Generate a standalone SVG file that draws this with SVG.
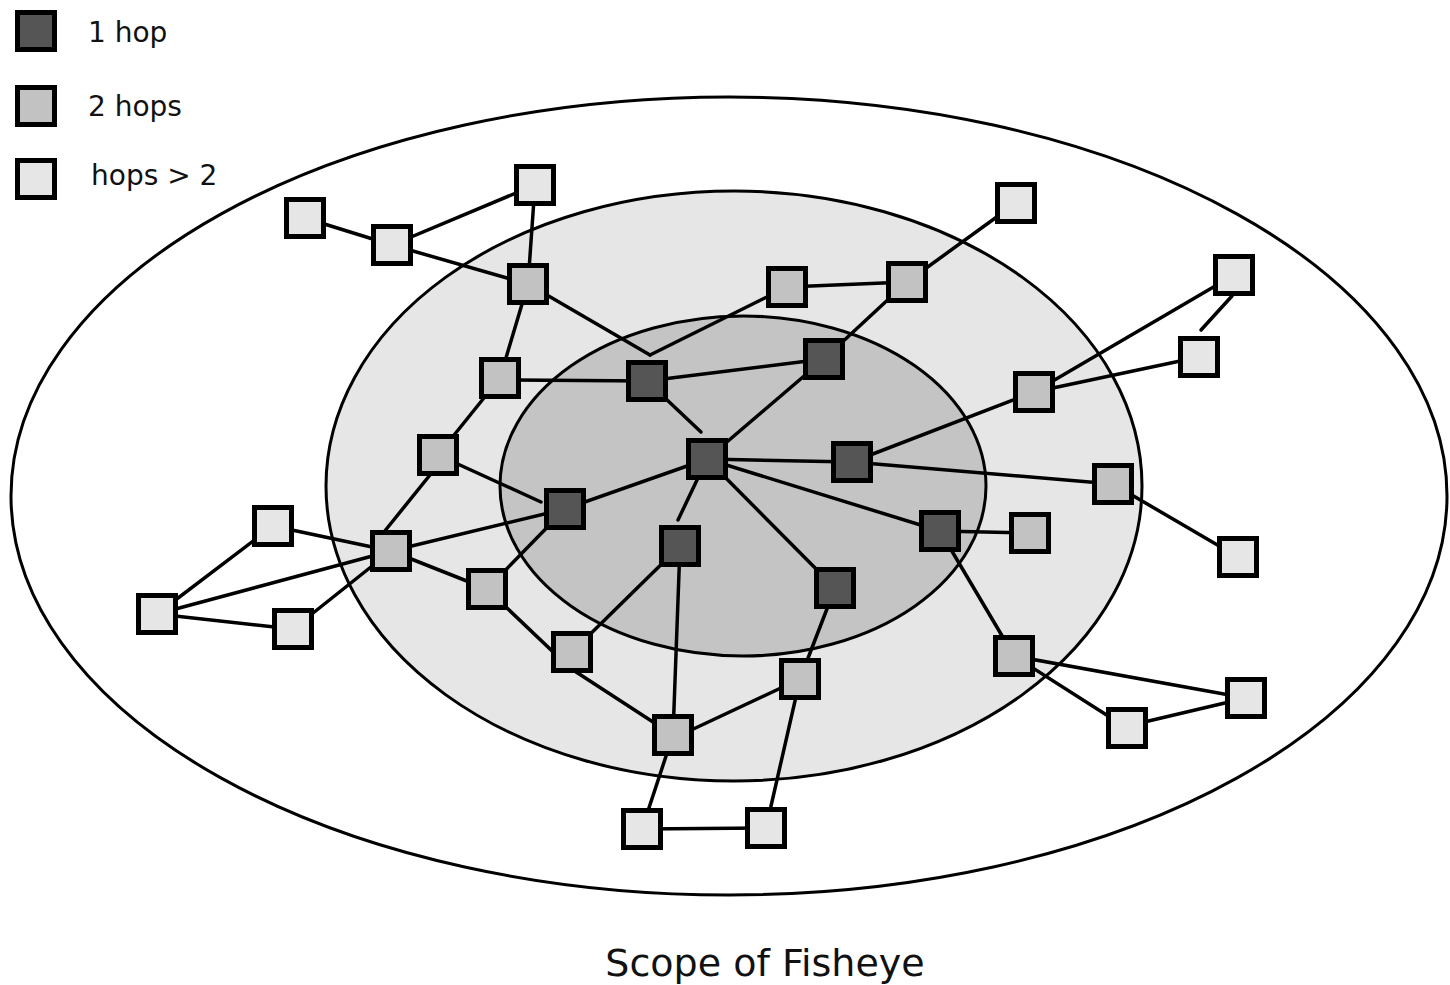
<svg xmlns="http://www.w3.org/2000/svg" width="1450" height="985" viewBox="0 0 1450 985">
  <style>
    .ring { stroke: #000; stroke-width: 3; }
    .edge { stroke: #000; stroke-width: 3.5; fill: none; stroke-linecap: round; }
    .box { stroke: #000; stroke-width: 5; }
    .h1 { fill: #555555; }
    .h2 { fill: #c2c2c2; }
    .h3 { fill: #e6e6e6; }
    .lbl { font-family: "DejaVu Sans", Verdana, sans-serif; fill: #111; }
  </style>

  <rect width="1450" height="985" fill="#ffffff"/>

  <!-- scope rings -->
  <g id="rings">
    <ellipse class="ring" cx="729" cy="496" rx="718" ry="399" fill="#ffffff"/>
    <ellipse class="ring" cx="734" cy="486" rx="408" ry="295" fill="#e6e6e6"/>
    <ellipse class="ring" cx="743" cy="486" rx="243" ry="170" fill="#c4c4c4"/>
  </g>

  <!-- links -->
  <g id="connectors">
    <line class="edge" x1="305" y1="218" x2="392" y2="245"/>
    <line class="edge" x1="392" y1="245" x2="535" y2="185"/>
    <line class="edge" x1="392" y1="245" x2="528" y2="284"/>
    <line class="edge" x1="535" y1="185" x2="528" y2="284"/>
    <line class="edge" x1="528" y1="284" x2="500" y2="378"/>
    <line class="edge" x1="528" y1="284" x2="650" y2="355"/>
    <line class="edge" x1="787" y1="287" x2="650" y2="355"/>
    <line class="edge" x1="513" y1="380" x2="647" y2="381"/>
    <line class="edge" x1="647" y1="381" x2="824" y2="359"/>
    <line class="edge" x1="647" y1="381" x2="701" y2="432"/>
    <line class="edge" x1="707" y1="459" x2="824" y2="359"/>
    <line class="edge" x1="824" y1="359" x2="907" y2="282"/>
    <line class="edge" x1="787" y1="287" x2="907" y2="282"/>
    <line class="edge" x1="907" y1="282" x2="1016" y2="203"/>
    <line class="edge" x1="707" y1="459" x2="852" y2="462"/>
    <line class="edge" x1="707" y1="459" x2="940" y2="531"/>
    <line class="edge" x1="707" y1="459" x2="835" y2="588"/>
    <line class="edge" x1="707" y1="459" x2="678" y2="520"/>
    <line class="edge" x1="707" y1="459" x2="565" y2="509"/>
    <line class="edge" x1="852" y1="462" x2="1034" y2="392"/>
    <line class="edge" x1="852" y1="462" x2="1113" y2="484"/>
    <line class="edge" x1="1034" y1="392" x2="1234" y2="275"/>
    <line class="edge" x1="1034" y1="392" x2="1199" y2="357"/>
    <line class="edge" x1="1232" y1="296" x2="1201" y2="330"/>
    <line class="edge" x1="1113" y1="484" x2="1238" y2="557"/>
    <line class="edge" x1="940" y1="531" x2="1030" y2="533"/>
    <line class="edge" x1="940" y1="531" x2="1014" y2="656"/>
    <line class="edge" x1="1014" y1="656" x2="1246" y2="698"/>
    <line class="edge" x1="1014" y1="656" x2="1127" y2="728"/>
    <line class="edge" x1="1140" y1="723" x2="1246" y2="698"/>
    <line class="edge" x1="438" y1="455" x2="541" y2="502"/>
    <line class="edge" x1="438" y1="455" x2="500" y2="378"/>
    <line class="edge" x1="434" y1="470" x2="384" y2="532"/>
    <line class="edge" x1="565" y1="509" x2="391" y2="551"/>
    <line class="edge" x1="565" y1="509" x2="487" y2="589"/>
    <line class="edge" x1="391" y1="551" x2="487" y2="589"/>
    <line class="edge" x1="391" y1="551" x2="273" y2="526"/>
    <line class="edge" x1="391" y1="551" x2="157" y2="614"/>
    <line class="edge" x1="391" y1="551" x2="293" y2="629"/>
    <line class="edge" x1="157" y1="614" x2="273" y2="526"/>
    <line class="edge" x1="157" y1="614" x2="293" y2="629"/>
    <line class="edge" x1="487" y1="589" x2="570" y2="668"/>
    <line class="edge" x1="570" y1="668" x2="673" y2="735"/>
    <line class="edge" x1="680" y1="546" x2="572" y2="652"/>
    <line class="edge" x1="680" y1="546" x2="673" y2="735"/>
    <line class="edge" x1="835" y1="588" x2="800" y2="679"/>
    <line class="edge" x1="800" y1="679" x2="687" y2="732"/>
    <line class="edge" x1="673" y1="735" x2="642" y2="829"/>
    <line class="edge" x1="800" y1="679" x2="766" y2="828"/>
    <line class="edge" x1="642" y1="829" x2="766" y2="828"/>
  </g>

  <!-- one-hop neighbours -->
  <g id="n-center"><rect class="box h1" x="688.5" y="440.5" width="37" height="37"/></g>
  <g id="n-c1"><rect class="box h1" x="628.5" y="362.5" width="37" height="37"/></g>
  <g id="n-c2"><rect class="box h1" x="805.5" y="340.5" width="37" height="37"/></g>
  <g id="n-c3"><rect class="box h1" x="833.5" y="443.5" width="37" height="37"/></g>
  <g id="n-c4"><rect class="box h1" x="546.5" y="490.5" width="37" height="37"/></g>
  <g id="n-c5"><rect class="box h1" x="661.5" y="527.5" width="37" height="37"/></g>
  <g id="n-c6"><rect class="box h1" x="921.5" y="512.5" width="37" height="37"/></g>
  <g id="n-c7"><rect class="box h1" x="816.5" y="569.5" width="37" height="37"/></g>

  <!-- two-hop neighbours -->
  <g id="n-b1"><rect class="box h2" x="509.5" y="265.5" width="37" height="37"/></g>
  <g id="n-b2"><rect class="box h2" x="768.5" y="268.5" width="37" height="37"/></g>
  <g id="n-b3"><rect class="box h2" x="888.5" y="263.5" width="37" height="37"/></g>
  <g id="n-b4"><rect class="box h2" x="481.5" y="359.5" width="37" height="37"/></g>
  <g id="n-b5"><rect class="box h2" x="419.5" y="436.5" width="37" height="37"/></g>
  <g id="n-b6"><rect class="box h2" x="1015.5" y="373.5" width="37" height="37"/></g>
  <g id="n-b7"><rect class="box h2" x="1094.5" y="465.5" width="37" height="37"/></g>
  <g id="n-b8"><rect class="box h2" x="1011.5" y="514.5" width="37" height="37"/></g>
  <g id="n-b9"><rect class="box h2" x="372.5" y="532.5" width="37" height="37"/></g>
  <g id="n-b10"><rect class="box h2" x="468.5" y="570.5" width="37" height="37"/></g>
  <g id="n-b11"><rect class="box h2" x="553.5" y="633.5" width="37" height="37"/></g>
  <g id="n-b12"><rect class="box h2" x="781.5" y="660.5" width="37" height="37"/></g>
  <g id="n-b13"><rect class="box h2" x="654.5" y="716.5" width="37" height="37"/></g>
  <g id="n-b14"><rect class="box h2" x="995.5" y="637.5" width="37" height="37"/></g>

  <!-- farther nodes -->
  <g id="n-a1"><rect class="box h3" x="286.5" y="199.5" width="37" height="37"/></g>
  <g id="n-a2"><rect class="box h3" x="373.5" y="226.5" width="37" height="37"/></g>
  <g id="n-a3"><rect class="box h3" x="516.5" y="166.5" width="37" height="37"/></g>
  <g id="n-a4"><rect class="box h3" x="997.5" y="184.5" width="37" height="37"/></g>
  <g id="n-a5"><rect class="box h3" x="1215.5" y="256.5" width="37" height="37"/></g>
  <g id="n-a6"><rect class="box h3" x="1180.5" y="338.5" width="37" height="37"/></g>
  <g id="n-a7"><rect class="box h3" x="1219.5" y="538.5" width="37" height="37"/></g>
  <g id="n-a8"><rect class="box h3" x="1227.5" y="679.5" width="37" height="37"/></g>
  <g id="n-a9"><rect class="box h3" x="1108.5" y="709.5" width="37" height="37"/></g>
  <g id="n-a10"><rect class="box h3" x="747.5" y="809.5" width="37" height="37"/></g>
  <g id="n-a11"><rect class="box h3" x="623.5" y="810.5" width="37" height="37"/></g>
  <g id="n-a12"><rect class="box h3" x="274.5" y="610.5" width="37" height="37"/></g>
  <g id="n-a13"><rect class="box h3" x="138.5" y="595.5" width="37" height="37"/></g>
  <g id="n-a14"><rect class="box h3" x="254.5" y="507.5" width="37" height="37"/></g>

  <!-- key -->
  <g id="legend">
    <rect class="box h1" x="17.5" y="12.5" width="37" height="37"/>
    <text class="lbl" x="88" y="42" font-size="28">1 hop</text>
    <rect class="box h2" x="17.5" y="87.5" width="37" height="37"/>
    <text class="lbl" x="88" y="116" font-size="28">2 hops</text>
    <rect class="box h3" x="17.5" y="160.5" width="37" height="37"/>
    <text class="lbl" x="91" y="185" font-size="28">hops &gt; 2</text>
  </g>

  <text id="caption" class="lbl" x="765" y="976" font-size="38" text-anchor="middle">Scope of Fisheye</text>
</svg>
